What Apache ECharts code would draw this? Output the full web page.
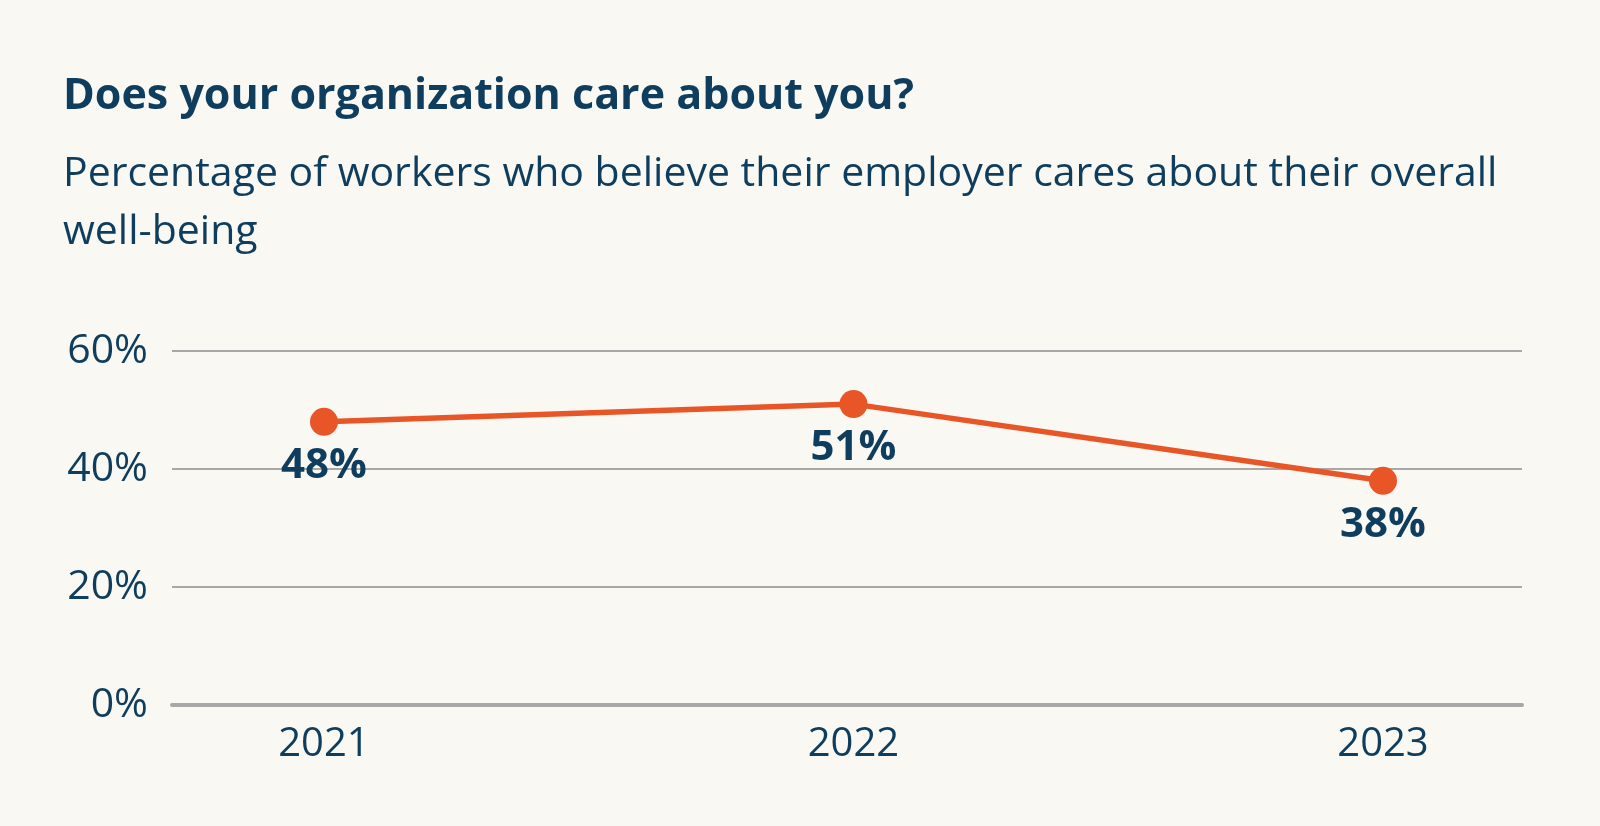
<!DOCTYPE html>
<html>
<head>
<meta charset="utf-8">
<script src="https://cdn.jsdelivr.net/npm/echarts@6/dist/echarts.min.js"></script>
<style>
  html, body { margin: 0; padding: 0; background: #f9f8f2; }
  #chart { width: 1600px; height: 826px; }
</style>
</head>
<body>
<div id="chart"></div>
<script>
var years = [2021, 2022, 2023];
var careValues = [48, 51, 38];
var yTicks = [0, 20, 40, 60];

var navy = '#0e3d5d';
var orange = '#e85628';
var font = 'Open Sans';

var chart = echarts.init(document.getElementById('chart'));

chart.setOption({
    backgroundColor: '#f9f8f2',
    textStyle: { fontFamily: font },
    title: {
        left: 58,
        top: 70,
        text: 'Does your organization care about you?',
        subtext: 'Percentage of workers who believe their employer cares about their overall\nwell-being',
        itemGap: 27,
        textStyle: { color: navy, fontSize: 43, fontWeight: 'bold', fontFamily: font },
        subtextStyle: { color: navy, fontSize: 41, lineHeight: 58, fontFamily: font }
    },
    grid: { left: 172, right: 78, top: 351, bottom: 121 },
    xAxis: {
        type: 'value',
        min: 2020.713,
        max: 2023.2625,
        splitLine: { show: false },
        axisTick: { show: false },
        axisLine: { show: true, lineStyle: { color: '#a8a8a9', width: 4 } },
        axisLabel: {
            customValues: years,
            color: navy,
            fontSize: 40,
            margin: 20,
            formatter: function (v) { return String(v); }
        }
    },
    yAxis: {
        type: 'value',
        min: yTicks[0],
        max: yTicks[yTicks.length - 1],
        interval: 20,
        axisLine: { show: false },
        axisTick: { show: false },
        splitLine: { lineStyle: { color: '#a8a8a9', width: 2 } },
        axisLabel: {
            color: navy,
            fontSize: 41,
            margin: 24,
            formatter: '{value}%'
        }
    },
    series: [{
        type: 'line',
        data: years.map(function (y, i) { return [y, careValues[i]]; }),
        symbol: 'circle',
        symbolSize: 28,
        lineStyle: { color: orange, width: 5.5 },
        itemStyle: { color: orange },
        label: {
            show: true,
            position: 'bottom',
            distance: 9,
            color: navy,
            fontSize: 42,
            fontWeight: 'bold',
            formatter: function (p) { return p.value[1] + '%'; }
        }
    }]
});
</script>
</body>
</html>
